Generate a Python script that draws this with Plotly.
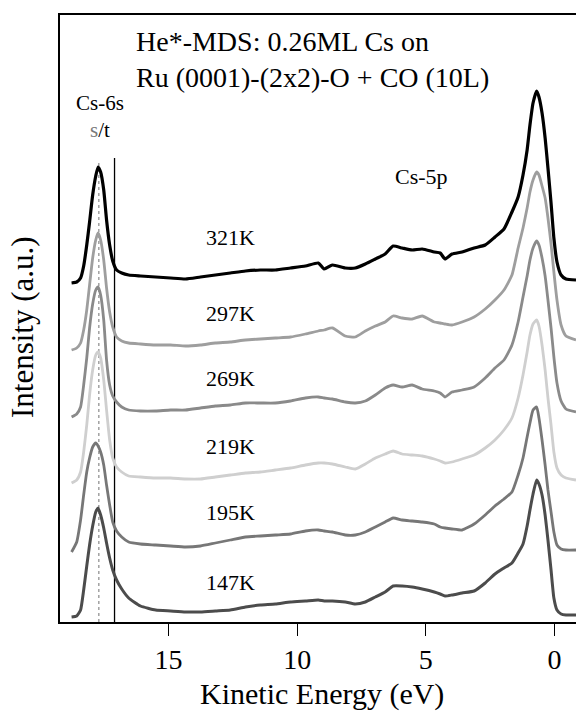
import plotly.graph_objects as go

# ---------------- data ----------------
energy = [18.77, 18.57, 18.42, 18.30, 18.18, 18.07, 17.95, 17.83, 17.74, 17.64,
          17.52, 17.41, 17.29, 17.17, 17.02, 16.82, 16.55, 16.09, 15.50, 14.92,
          14.34, 13.76, 13.18, 12.60, 12.01, 11.43, 10.85, 10.26, 9.68, 9.18,
          8.95, 8.63, 8.13, 7.74, 7.35, 6.96, 6.58, 6.27, 5.92, 5.53,
          5.14, 4.67, 4.44, 4.25, 3.98, 3.59, 3.12, 2.69, 2.31, 1.96,
          1.65, 1.41, 1.22, 1.06, 0.95, 0.83, 0.69, 0.60, 0.48, 0.36,
          0.25, 0.13, 0.02, -0.10, -0.26, -0.45, -0.84]

temps = ["321K", "297K", "269K", "219K", "195K", "147K"]

i_321 = [339, 340, 344, 356, 377, 400, 427, 446, 455, 450, 432, 402, 377, 361, 352, 349, 347, 346, 345, 344,
         343, 345, 347, 349, 351, 352, 352, 354, 356, 359, 353, 357, 354, 354, 358, 363, 368, 376, 374, 372,
         373, 370, 369, 363, 368, 370, 374, 377, 385, 393, 410, 425, 447, 472, 497, 519, 531, 525, 509, 484,
         454, 419, 384, 360, 347, 343, 342]
i_297 = [272, 274, 279, 292, 312, 337, 364, 382, 389, 382, 362, 334, 310, 295, 285, 281, 279, 278, 277, 277,
         276, 277, 279, 280, 282, 283, 284, 285, 288, 291, 292, 294, 286, 285, 291, 296, 300, 306, 304, 303,
         306, 300, 299, 298, 297, 300, 305, 313, 322, 332, 347, 374, 394, 414, 430, 442, 450, 447, 436, 424,
         404, 378, 350, 322, 297, 286, 282]
i_269 = [205, 208, 215, 237, 264, 294, 318, 332, 335, 327, 302, 262, 237, 226, 220, 215, 212, 211, 211, 212,
         212, 214, 216, 217, 219, 219, 219, 221, 224, 225, 224, 223, 220, 219, 221, 227, 234, 237, 235, 237,
         233, 231, 229, 225, 230, 232, 235, 244, 254, 262, 277, 300, 325, 346, 362, 374, 381, 377, 364, 346,
         322, 294, 265, 239, 221, 213, 210]
i_219 = [139, 142, 150, 170, 197, 227, 252, 267, 270, 264, 242, 212, 182, 164, 155, 150, 146, 145, 144, 144,
         143, 143, 145, 147, 149, 150, 152, 154, 157, 159, 159, 158, 155, 153, 158, 164, 168, 171, 168, 167,
         166, 163, 161, 159, 160, 163, 167, 174, 182, 192, 204, 224, 247, 270, 287, 298, 302, 296, 277, 252,
         224, 197, 170, 154, 147, 144, 142]
i_195 = [70, 80, 102, 127, 150, 164, 175, 179, 176, 170, 157, 137, 117, 100, 91, 85, 80, 78, 77, 76,
         75, 76, 79, 82, 85, 86, 87, 88, 91, 92, 91, 90, 87, 87, 90, 95, 100, 104, 102, 101,
         100, 98, 95, 94, 93, 92, 98, 107, 116, 123, 130, 147, 164, 185, 199, 212, 215, 204, 182, 157,
         132, 110, 90, 77, 73, 72, 72]
i_147 = [5, 6, 12, 32, 56, 77, 96, 110, 114, 107, 94, 79, 64, 52, 42, 33, 24, 16, 12, 11,
         10, 10, 11, 12, 15, 17, 18, 20, 21, 22, 21, 21, 20, 18, 20, 25, 30, 36, 36, 35,
         33, 30, 28, 26, 27, 29, 31, 39, 48, 54, 59, 69, 78, 96, 112, 128, 142, 138, 127, 107,
         82, 52, 24, 12, 8, 7, 7]

series = [i_321, i_297, i_269, i_219, i_195, i_147]

# label positions for each spectrum (eV, intensity)
label_energy = 12.59
label_level = [385, 309, 244, 176, 110, 40]

# Cs-6s singlet / triplet marker energies
s_energy = 17.71
t_energy = 17.10
marker_top = [462, 464]

xticks = [15, 10, 5, 0]
xticklabels = ["15", "10", "5", "0"]

title_lines = ["He*-MDS: 0.26ML Cs on", "Ru (0001)-(2x2)-O + CO (10L)"]
cs6s_lines = ["Cs-6s", '<span style="color:#7a7a7a">s</span>/t']

# ---------------- figure ----------------
colors = ["#000000", "#9e9e9e", "#8a8a8a", "#cfcfcf", "#777777", "#4c4c4c"]
widths = [3.2, 2.8, 2.8, 2.8, 2.8, 3.0]

W, H = 576, 711
L, R, T, B = 60, 0, 15, 89
PW, PH = W - L - R, H - T - B

def paper(xp, yp):
    return (xp - L) / PW, (H - B - yp) / PH

FONT = "Liberation Serif"

fig = go.Figure()

# vertical markers
fig.add_trace(go.Scatter(x=[s_energy, s_energy], y=[0, marker_top[0]], mode="lines",
                         line=dict(color="#8a8a8a", width=1.2, dash="dot"), hoverinfo="skip"))
fig.add_trace(go.Scatter(x=[t_energy, t_energy], y=[0, marker_top[1]], mode="lines",
                         line=dict(color="#000000", width=1.3), hoverinfo="skip"))

for name, vals, col, w in reversed(list(zip(temps, series, colors, widths))):
    fig.add_trace(go.Scatter(x=energy, y=vals, mode="lines", name=name,
                             line=dict(color=col, width=w, shape="spline", smoothing=0.5)))

annotations = []
for name, lv in zip(temps, label_level):
    annotations.append(dict(x=label_energy, y=lv, xref="x", yref="y", text=name,
                            showarrow=False, font=dict(family=FONT, size=22, color="black"),
                            xanchor="center", yanchor="middle"))

def add_text(text, xp, yp, size, xanchor="left", angle=0, color="black", align="left"):
    px, py = paper(xp, yp)
    annotations.append(dict(x=px, y=py, xref="paper", yref="paper", text=text,
                            showarrow=False, textangle=angle, align=align,
                            font=dict(family=FONT, size=size, color=color),
                            xanchor=xanchor, yanchor="middle"))

add_text("<br>".join(title_lines), 134, 60, 28)
add_text("<br>".join(cs6s_lines), 100, 116, 21, xanchor="center", align="center")
add_text("Cs-5p", 421, 176, 22, xanchor="center")
add_text("Kinetic Energy (eV)", 322, 694, 30, xanchor="center")
add_text("Intensity (a.u.)", 22, 327, 31, xanchor="center", angle=-90)

fig.update_layout(
    width=W, height=H,
    margin=dict(l=L, r=R, t=T, b=B),
    paper_bgcolor="white", plot_bgcolor="white",
    showlegend=False,
    font=dict(family=FONT, color="black"),
    annotations=annotations,
)
fig.update_xaxes(range=[19.22, -0.84], tickvals=xticks, ticktext=xticklabels,
                 ticks="outside", ticklen=12, tickwidth=1.2, tickcolor="black",
                 showline=True, linecolor="black", linewidth=1.5, mirror=True,
                 showgrid=False, zeroline=False, tickfont=dict(family=FONT, size=28, color="black"))
fig.update_yaxes(range=[0, 607], showticklabels=False, ticks="",
                 showline=True, linecolor="black", linewidth=1.5,
                 showgrid=False, zeroline=False)

fig.write_html("out.html")
